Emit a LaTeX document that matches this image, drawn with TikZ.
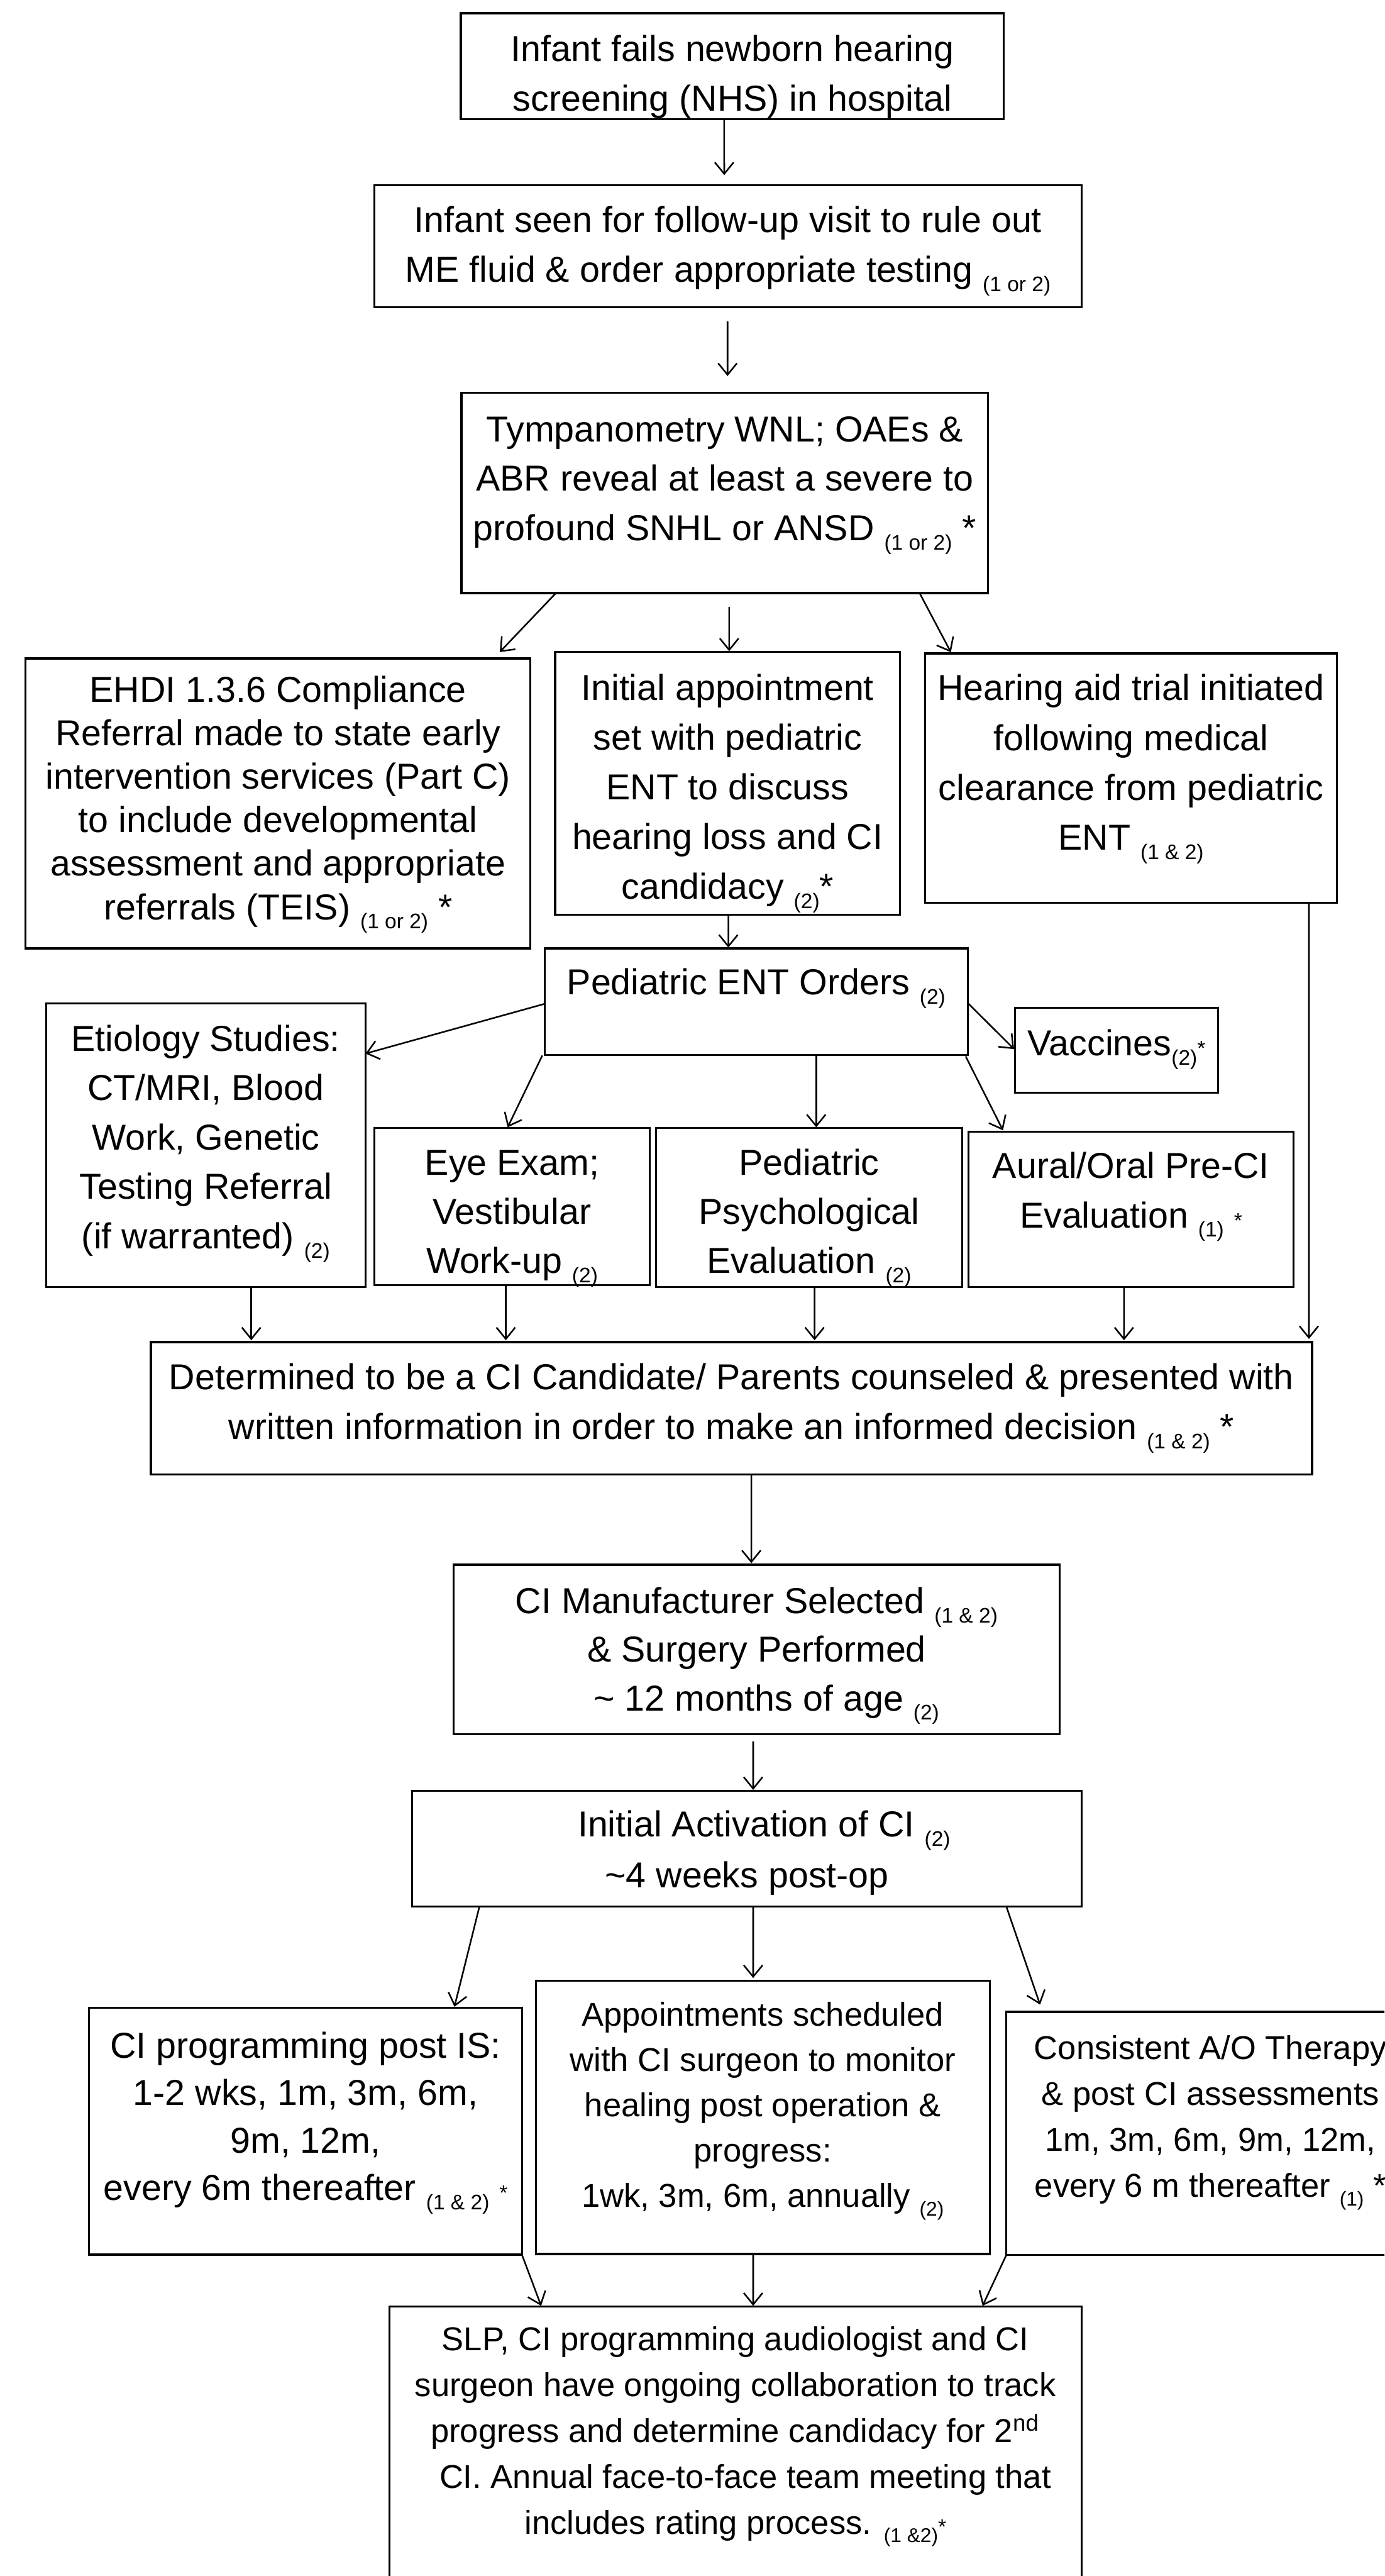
\documentclass[tikz,border=0pt]{standalone}
\usepackage{fontspec}
\setmainfont{Liberation Sans}
\usetikzlibrary{arrows.meta,fit,calc}
\newcommand\sbs[1]{\raisebox{-3.2pt}{\fontsize{7.3pt}{7.3pt}\selectfont #1}}
\newcommand\sbss[1]{\raisebox{-3pt}{\fontsize{6.9pt}{6.9pt}\selectfont #1}}
\newcommand\sast{{\fontsize{7.3pt}{7.3pt}\selectfont *}}
\newcommand\mkbox[5]{\node[bx, fit={(#2,#3) (#4,#5)}] (#1) {};}
\newcommand\fm[1]{\fontsize{12.5pt}{#1}\selectfont}
\newcommand\fs[1]{\fontsize{11.45pt}{#1}\selectfont}
\begin{document}
\begin{tikzpicture}[x=0.02cm,y=-0.02cm,
  bx/.style={draw, line width=0.7pt, inner sep=0pt, outer sep=0pt},
  tx/.style={inner sep=0pt, outer sep=0pt, align=center, anchor=base},
  arr/.style={-{Straight Barb[length=4pt,width=6.5pt]}, line width=0.55pt},
]
\useasboundingbox (0,0) rectangle (843,1568);
\clip (0,0) rectangle (843,1568);

% boxes
\mkbox{b1}{280.6}{8}{611.3}{72.4}
\mkbox{b2}{228}{112.6}{658.6}{187}
\mkbox{b3}{281}{239}{601.6}{361}
\mkbox{ehdi}{15.6}{400.8}{323}{577.3}
\mkbox{appt}{338}{396.9}{548}{556.7}
\mkbox{ha}{563.4}{397.7}{814}{549.6}
\mkbox{ent}{331.7}{577.3}{589.2}{642.2}
\mkbox{eti}{28}{610.9}{222.6}{783.4}
\mkbox{vac}{618}{613.6}{741.8}{665}
\mkbox{eye}{228}{686.7}{395.7}{782.3}
\mkbox{psy}{399.4}{686.7}{586}{783.4}
\mkbox{aur}{589.7}{688.8}{787.6}{783.4}
\mkbox{det}{91.9}{816.9}{798.9}{897.5}
\mkbox{man}{276.3}{952.4}{645.1}{1055.7}
\mkbox{act}{251}{1090}{658.6}{1160.6}
\mkbox{prog}{54.3}{1222.2}{317.8}{1372.4}
\mkbox{appts}{326.2}{1205.8}{602.7}{1372}
\mkbox{cons}{612.7}{1224.6}{862}{1372.7}
\mkbox{slp}{237}{1403.8}{658.6}{1600}

% texts (anchor = baseline of last line)
\node[tx, font=\fm{17.1pt}] (t1) at (446,67.5) {Infant fails newborn hearing\\screening (NHS) in hospital};
\node[tx, font=\fm{17.2pt}] (t2) at (443.3,171.8) {Infant seen for follow-up visit to rule out\\ME fluid \& order appropriate testing \sbs{(1 or 2)}};
\node[tx, font=\fm{17.1pt}] (t3) at (441.3,329) {Tympanometry WNL; OAEs \&\\ABR reveal at least a severe to\\profound SNHL or ANSD \sbs{(1 or 2)} *};
\node[tx, font=\fm{15.08pt}] (t4) at (169.3,559.7) {EHDI 1.3.6 Compliance\\Referral made to state early\\intervention services (Part C)\\to include developmental\\assessment and appropriate\\referrals (TEIS) \sbs{(1 or 2)} *};
\node[tx, font=\fm{17.23pt}] (t5) at (443,547.3) {Initial appointment\\set with pediatric\\ENT to discuss\\hearing loss and CI\\candidacy \sbs{(2)}*};
\node[tx, font=\fm{17.29pt}] (t6) at (688.7,517.5) {Hearing aid trial initiated\\following medical\\clearance from pediatric\\ENT \sbs{(1 \& 2)}};
\node[tx, font=\fm{17pt}] (t7) at (460.45,605.5) {Pediatric ENT Orders \sbs{(2)}};
\node[tx, font=\fm{17.12pt}] (t8) at (125.3,760) {Etiology Studies:\\CT/MRI, Blood\\Work, Genetic\\Testing Referral\\(if warranted) \sbs{(2)}};
\node[tx, font=\fm{17pt}] (t9) at (679.9,642.6) {Vaccines\sbs{(2)}\sast};
\node[tx, font=\fm{17pt}] (t10) at (311.85,775) {Eye Exam;\\Vestibular\\Work-up \sbs{(2)}};
\node[tx, font=\fm{17pt}] (t11) at (492.7,775) {Pediatric\\Psychological\\Evaluation \sbs{(2)}};
\node[tx, font=\fm{17.18pt}] (t12) at (688.65,747.3) {Aural/Oral Pre-CI\\Evaluation \sbs{(1)} \sast};
\node[tx, font=\fm{17.23pt}] (t13) at (445.4,876.2) {Determined to be a CI Candidate/ Parents counseled \& presented with\\written information in order to make an informed decision \sbs{(1 \& 2)} *};
\node[tx, font=\fm{16.84pt}] (t14) at (460.7,1041.3) {CI Manufacturer Selected \sbs{(1 \& 2)}\\\& Surgery Performed\\\hspace*{6.8pt}\textasciitilde\ 12 months of age \sbs{(2)}};
\node[tx, font=\fm{17.6pt}] (t15) at (454.8,1149) {\hspace*{11.9pt}Initial Activation of CI \sbs{(2)}\\\textasciitilde{}4 weeks post-op};
\node[tx, font=\fm{16.44pt}] (t16) at (186.05,1339.3) {CI programming post IS:\\1-2 wks, 1m, 3m, 6m,\\9m, 12m,\\every 6m thereafter \sbs{(1 \& 2)} \sast};
\node[tx, font=\fs{15.7pt}] (t17) at (464.45,1343.6) {Appointments scheduled\\with CI surgeon to monitor\\healing post operation \&\\progress:\\1wk, 3m, 6m, annually \sbss{(2)}};
\node[tx, font=\fs{15.93pt}] (t18) at (737,1337.4) {Consistent A/O Therapy\\\& post CI assessments\\1m, 3m, 6m, 9m, 12m,\\every 6 m thereafter \sbss{(1)} *};
\node[tx, font=\fs{15.87pt}] (t19) at (447.8,1542.4) {SLP, CI programming audiologist and CI\\surgeon have ongoing collaboration to track\\progress and determine candidacy for 2\textsuperscript{nd}\\\hspace*{6.8pt}CI. Annual face-to-face team meeting that\\includes rating process. \sbss{(1 \&2)}\sast};

% connectors
\draw[arr] ($(b1.south)+(-5,0)$) -- ($(b2.north)+(-2.3,-6)$);
\draw[arr] ($(b2.south)+(-0.3,8.7)$) -- ($(b3.north)+(1.7,-10.1)$);
\draw[arr] ($(b3.south)+(-102.8,0)$) -- ($(ehdi.north)+(135,-3.9)$);
\draw[arr] ($(b3.south)+(2.7,8.4)$) -- ($(appt.north)+(1,-0.5)$);
\draw[arr] ($(b3.south)+(118.9,0.5)$) -- ($(ha.north)+(-109.7,-0.7)$);
\draw[arr] ($(appt.south)+(0.5,0)$) -- ($(ent.north)+(-16.95,-0.5)$);
\draw[arr] ($(ha.south)+(108.3,0)$) -- ($(det.north)+(351.6,-1.9)$);
\draw[arr] ($(ent.west)+(0,1.25)$) -- ($(eti.east)+(0,-55.85)$);
\draw[arr] ($(ent.east)+(0,0.65)$) -- ($(vac.west)+(-0.5,-0.7)$);
\draw[arr] ($(ent.south west)+(-1.5,0.3)$) -- ($(eye.north)+(-2.75,-0.5)$);
\draw[arr] ($(ent.south)+(36.55,0)$) -- ($(psy.north)+(4.3,-0.5)$);
\draw[arr] ($(ent.south east)+(-1.2,0.8)$) -- ($(aur.north)+(-77.95,-0.8)$);
\draw[arr] ($(eti.south)+(27.7,0)$) -- ($(det.north)+(-292.4,-1.1)$);
\draw[arr] ($(eye.south)+(-3.85,0)$) -- ($(det.north)+(-137.4,-1.1)$);
\draw[arr] ($(psy.south)+(3.3,0)$) -- ($(det.north)+(50.6,-1.1)$);
\draw[arr] ($(aur.south)+(-4.25,0)$) -- ($(det.north)+(239,-1.1)$);
\draw[arr] ($(det.south)+(12.1,0)$) -- ($(man.north)+(-3.2,-0.9)$);
\draw[arr] ($(man.south)+(-2.1,4.3)$) -- ($(act.north)+(3.8,-0.5)$);
\draw[arr] ($(act.south)+(-162.9,0)$) -- ($(prog.north)+(90.65,-0.7)$);
\draw[arr] ($(act.south)+(3.8,0)$) -- ($(appts.north)+(-5.85,-1.8)$);
\draw[arr] ($(act.south)+(158,0)$) -- ($(cons.north)+(-104.05,-4.4)$);
\draw[arr] (prog.south east) -- ($(slp.north)+(-118.3,-0.3)$);
\draw[arr] ($(appts.south)+(-5.85,0)$) -- ($(slp.north)+(10.8,-0.3)$);
\draw[arr] (cons.south west) -- ($(slp.north)+(150.5,-0.3)$);
\end{tikzpicture}
\end{document}
